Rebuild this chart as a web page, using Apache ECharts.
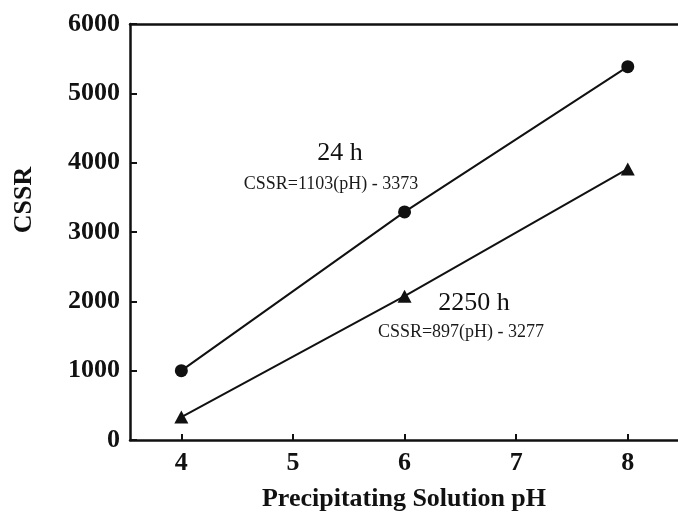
<!DOCTYPE html>
<html>
<head>
<meta charset="utf-8">
<script src="https://cdn.jsdelivr.net/npm/echarts@6/dist/echarts.min.js"></script>
<style>
html,body{margin:0;padding:0;background:#fff;}
#chart{width:678px;height:514px;}
</style>
</head>
<body>
<div id="chart"></div>
<script>
// Data
var phValues = [4, 6, 8];
var cssr24h = [1000, 3290, 5385];
var cssr2250h = [330, 2075, 3910];
var xTickValues = [4, 5, 6, 7, 8];
var yMin = 0, yMax = 6000, yStep = 1000;
var xMin = 3.54, xMax = 8.45;
var label24 = '24 h';
var eq24 = 'CSSR=1103(pH) - 3373';
var label2250 = '2250 h';
var eq2250 = 'CSSR=897(pH) - 3277';
var xName = 'Precipitating Solution pH';
var yName = 'CSSR';

function pairs(xs, ys) { return xs.map(function (x, i) { return [x, ys[i]]; }); }

var serif = '"Liberation Serif", "DejaVu Serif", serif';
var chart = echarts.init(document.getElementById('chart'), null, {renderer: 'canvas'});
chart.setOption({
  animation: false,
  backgroundColor: '#ffffff',
  grid: {
    left: 130, right: 0, top: 24, bottom: 74, show: false
  },
  xAxis: [
    {
      type: 'value', min: xMin, max: xMax,
      axisLine: {show: true, lineStyle: {color: '#111', width: 2.5}},
      axisTick: {show: true, inside: true, length: 6, customValues: xTickValues, lineStyle: {color: '#111', width: 2}},
      axisLabel: {customValues: xTickValues, margin: 10, color: '#111', fontFamily: serif, fontWeight: 'bold', fontSize: 26},
      splitLine: {show: false}
    },
    {
      type: 'value', position: 'top', min: xMin, max: xMax,
      axisLine: {show: true, lineStyle: {color: '#111', width: 2.5}},
      axisTick: {show: false}, axisLabel: {show: false}, splitLine: {show: false}
    }
  ],
  yAxis: {
    type: 'value', min: yMin, max: yMax, interval: yStep,
    axisLine: {show: true, lineStyle: {color: '#111', width: 2.5}},
    axisTick: {show: true, inside: true, length: 7, lineStyle: {color: '#111', width: 2}},
    axisLabel: {margin: 10, color: '#111', fontFamily: serif, fontWeight: 'bold', fontSize: 26,
      formatter: function (v) { return String(v); }},
    splitLine: {show: false}
  },
  series: [
    {
      name: '24 h', type: 'line', xAxisIndex: 0, data: pairs(phValues, cssr24h),
      symbol: 'circle', symbolSize: 13, showAllSymbol: true,
      lineStyle: {color: '#111', width: 2},
      itemStyle: {color: '#111'}
    },
    {
      name: '2250 h', type: 'line', xAxisIndex: 0, data: pairs(phValues, cssr2250h),
      symbol: 'triangle', symbolSize: [14, 13], showAllSymbol: true,
      lineStyle: {color: '#111', width: 2},
      itemStyle: {color: '#111'}
    }
  ],
  graphic: [
    {type: 'text', x: 340, y: 153, style: {text: label24, fill: '#111', font: '26px ' + serif, textAlign: 'center', textVerticalAlign: 'middle'}},
    {type: 'text', x: 331, y: 184, style: {text: eq24, fill: '#1a1a1a', font: '18px ' + serif, textAlign: 'center', textVerticalAlign: 'middle'}},
    {type: 'text', x: 474, y: 303, style: {text: label2250, fill: '#111', font: '26px ' + serif, textAlign: 'center', textVerticalAlign: 'middle'}},
    {type: 'text', x: 461, y: 332, style: {text: eq2250, fill: '#1a1a1a', font: '18px ' + serif, textAlign: 'center', textVerticalAlign: 'middle'}},
    {type: 'text', x: 404, y: 499, style: {text: xName, fill: '#111', font: 'bold 26px ' + serif, textAlign: 'center', textVerticalAlign: 'middle'}},
    {type: 'text', x: 24, y: 200, rotation: Math.PI / 2, style: {text: yName, fill: '#111', font: 'bold 26px ' + serif, textAlign: 'center', textVerticalAlign: 'middle'}}
  ]
});
</script>
</body>
</html>
